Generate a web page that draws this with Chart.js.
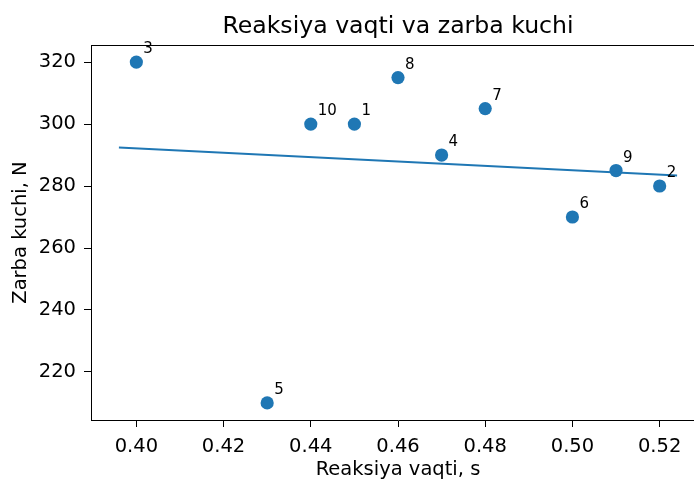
<!DOCTYPE html>
<html>
<head>
<meta charset="utf-8">
<script src="https://cdn.jsdelivr.net/npm/chart.js@4/dist/chart.umd.min.js"></script>
<style>
  html, body { margin: 0; padding: 0; overflow: hidden; background: #fff; width: 694px; height: 481px; }
  #wrap { width: 694px; height: 481px; overflow: hidden; position: relative; }
  #c { position: absolute; left: 0; top: 0; }
</style>
</head>
<body>
<div id="wrap"><canvas id="c" width="720" height="481"></canvas></div>
<script>
// ---- data ----
const pointIds = ['1', '2', '3', '4', '5', '6', '7', '8', '9', '10'];
const reactionTime = [0.45, 0.52, 0.40, 0.47, 0.43, 0.50, 0.48, 0.46, 0.51, 0.44];
const impactForce = [300, 280, 320, 290, 210, 270, 305, 315, 285, 300];
const trendX = [0.396, 0.524];
const trendY = [292.4, 283.4];
const xTicks = [0.40, 0.42, 0.44, 0.46, 0.48, 0.50, 0.52];
const yTicks = [220, 240, 260, 280, 300, 320];
const titleText = 'Reaksiya vaqti va zarba kuchi';
const xTitle = 'Reaksiya vaqti, s';
const yTitle = 'Zarba kuchi, N';

const BLUE = '#1f77b4';
Chart.defaults.font.family = "'DejaVu Sans', sans-serif";
Chart.defaults.color = '#000';

const scatterPts = reactionTime.map((x, i) => ({ x: x, y: impactForce[i] }));
const trendPts = trendX.map((x, i) => ({ x: x, y: trendY[i] }));

const labelPlugin = {
  id: 'pointLabels',
  afterDatasetsDraw(chart) {
    const meta = chart.getDatasetMeta(1);
    const ctx = chart.ctx;
    ctx.save();
    ctx.font = "15px 'DejaVu Sans'";
    ctx.fillStyle = '#000';
    ctx.textAlign = 'left';
    ctx.textBaseline = 'alphabetic';
    meta.data.forEach((el, i) => {
      ctx.fillText(pointIds[i], el.x + 7, el.y - 9);
    });
    ctx.restore();
  }
};

const framePlugin = {
  id: 'frame',
  afterDraw(chart) {
    const a = chart.chartArea;
    const ctx = chart.ctx;
    ctx.save();
    ctx.fillStyle = '#000';
    ctx.fillRect(a.left, Math.round(a.top), a.right - a.left, 1);
    ctx.restore();
  }
};

new Chart(document.getElementById('c'), {
  type: 'scatter',
  data: {
    datasets: [
      {
        label: 'trend',
        data: trendPts,
        showLine: true,
        borderColor: BLUE,
        borderWidth: 2,
        pointRadius: 0,
        fill: false
      },
      {
        label: 'points',
        data: scatterPts,
        backgroundColor: BLUE,
        borderColor: BLUE,
        borderWidth: 0,
        pointRadius: 6.6,
        pointHoverRadius: 6.6
      }
    ]
  },
  options: {
    responsive: false,
    animation: false,
    layout: { padding: { left: 0, right: 15, top: 0, bottom: 0 } },
    plugins: {
      legend: { display: false },
      tooltip: { enabled: false },
      title: {
        display: true,
        fullSize: false,
        text: titleText,
        color: '#000',
        font: { size: 23.6, weight: 'normal' },
        padding: { top: 12.2, bottom: 4.5 }
      }
    },
    scales: {
      x: {
        type: 'linear',
        min: 0.3896,
        max: 0.5304,
        afterFit(s) { s.height = 61; },
        afterBuildTicks(s) { s.ticks = xTicks.map(v => ({ value: v })); },
        grid: { display: true, drawOnChartArea: false, drawTicks: true, tickLength: 7, color: '#000', lineWidth: 1 },
        border: { display: true, color: '#000', width: 1 },
        ticks: {
          font: { size: 19.5 },
          color: '#000',
          padding: 8,
          maxRotation: 0,
          autoSkip: false,
          callback: v => Number(v).toFixed(2)
        },
        title: {
          display: true,
          text: xTitle,
          color: '#000',
          font: { size: 19.5, lineHeight: 1.1 },
          padding: { top: 0, bottom: 0 }
        }
      },
      y: {
        type: 'linear',
        min: 204.5,
        max: 325.5,
        afterFit(s) { s.width = 91; },
        afterBuildTicks(s) { s.ticks = yTicks.map(v => ({ value: v })); },
        grid: { display: true, drawOnChartArea: false, drawTicks: true, tickLength: 7, color: '#000', lineWidth: 1 },
        border: { display: true, color: '#000', width: 1 },
        ticks: {
          font: { size: 19.5 },
          color: '#000',
          padding: 8,
          autoSkip: false,
          callback: v => String(v)
        },
        title: {
          display: true,
          text: yTitle,
          color: '#000',
          font: { size: 19.5 },
          padding: { top: 9, bottom: 0 }
        }
      }
    }
  },
  plugins: [labelPlugin, framePlugin]
});
</script>
</body>
</html>
